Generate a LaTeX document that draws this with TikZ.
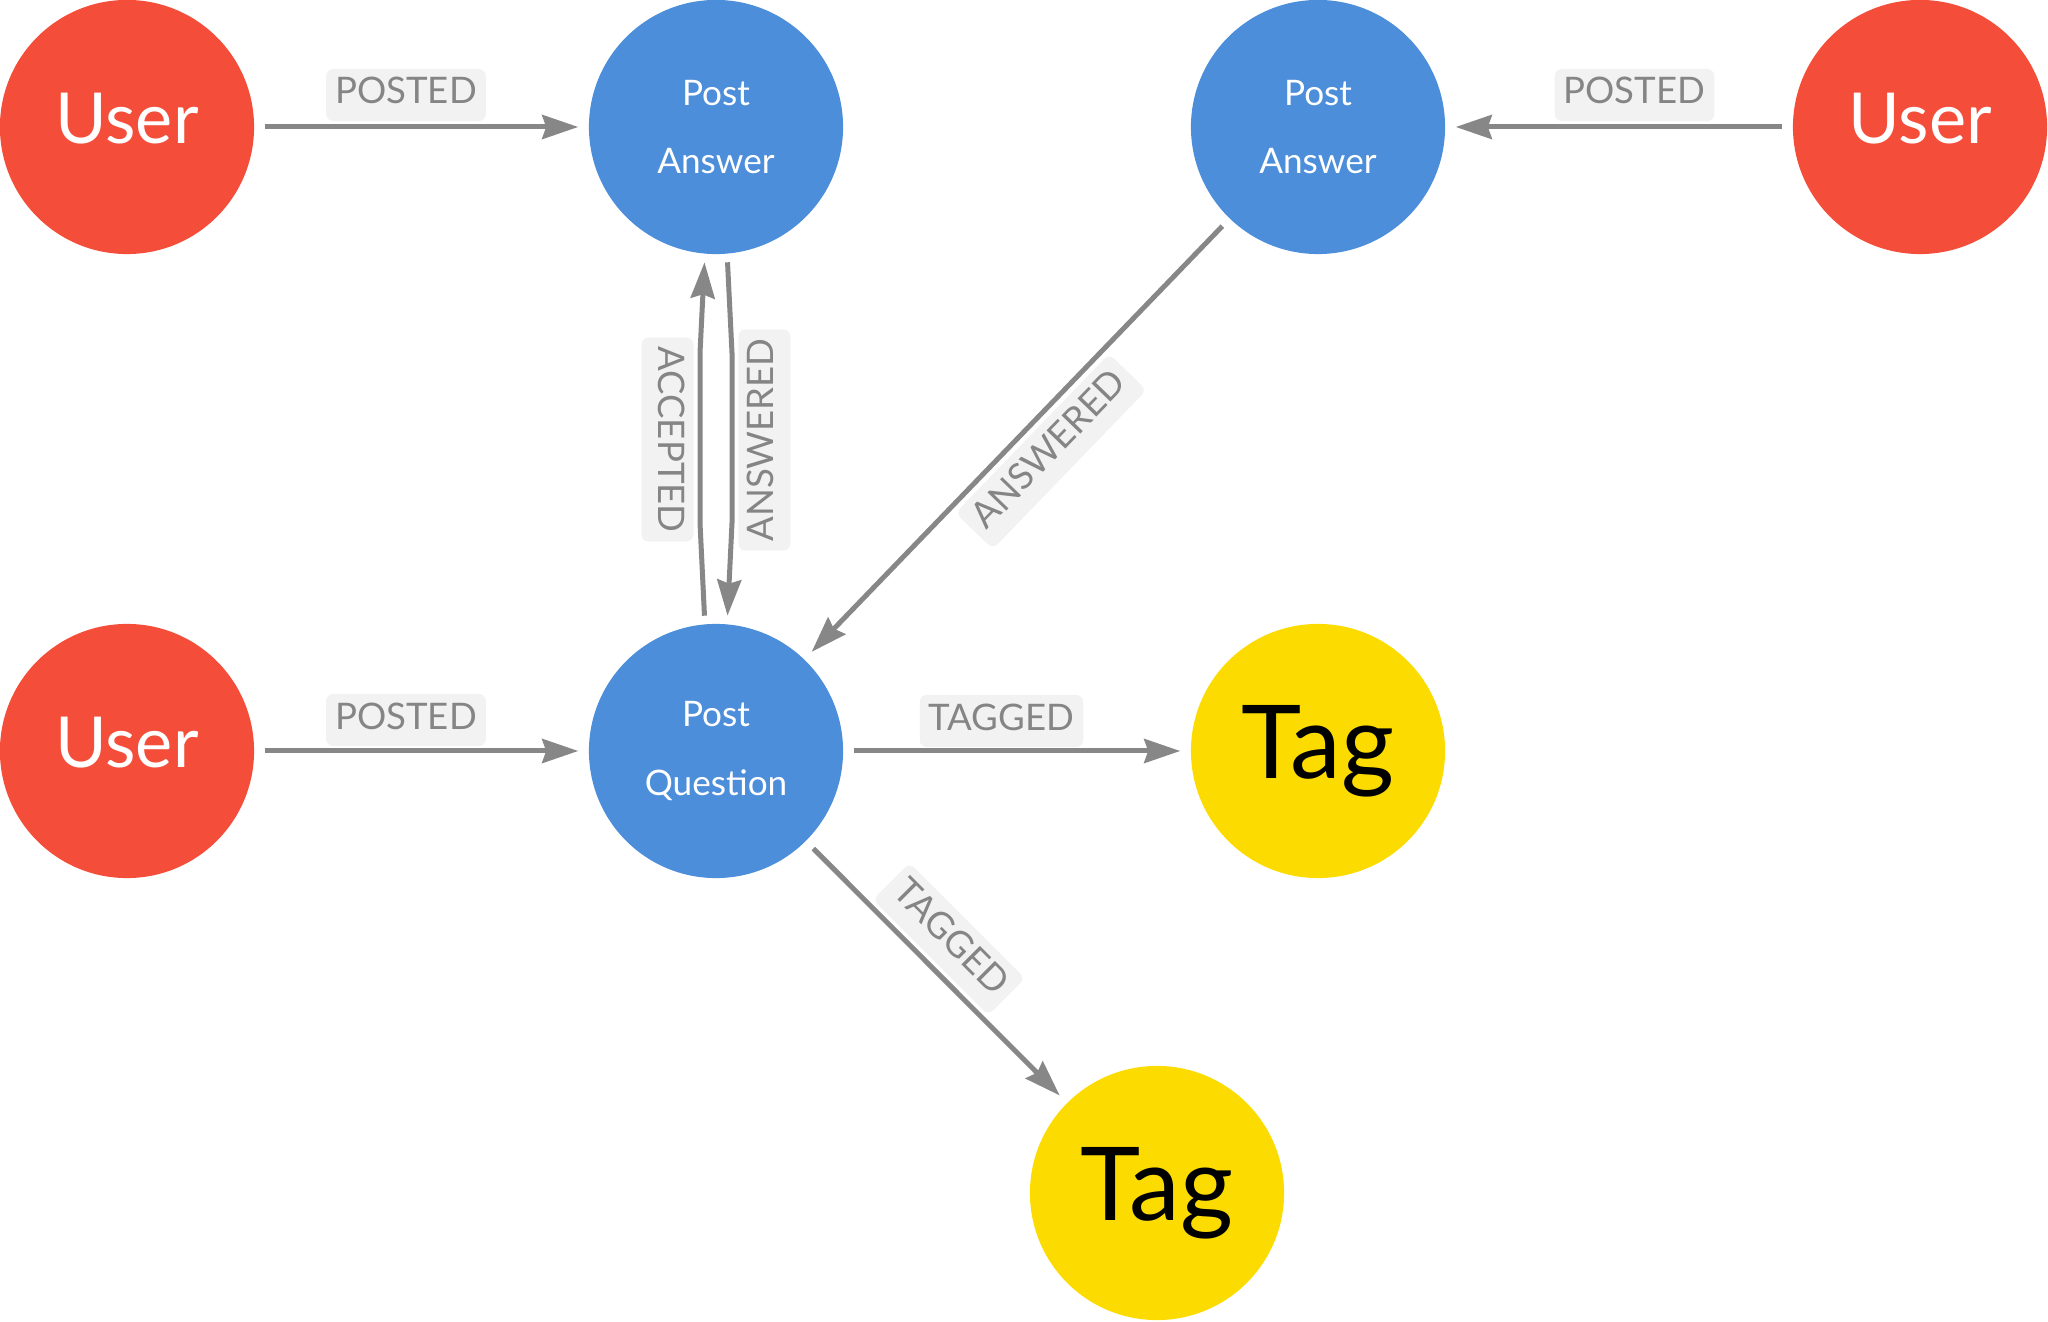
\documentclass[tikz,border=0pt]{standalone}
\usepackage{fontspec}
\setmainfont{Lato}
\usetikzlibrary{arrows.meta}
\definecolor{ured}{HTML}{F44E3B}
\definecolor{pblue}{HTML}{4C8EDA}
\definecolor{tyel}{HTML}{FCDC00}
\definecolor{edgegray}{HTML}{878787}
\definecolor{lblbg}{HTML}{F2F2F2}
\definecolor{lbltxt}{HTML}{858585}
\begin{document}
\begin{tikzpicture}[x=0.01cm,y=-0.01cm,
  ent/.style={circle,minimum size=2.54cm,inner sep=0pt,draw=none},
  usr/.style={ent,fill=ured,text=white,font=\fontsize{20}{24}\selectfont,text height=0.49cm,text depth=0.16cm},
  postnode/.style={ent,fill=pblue,text=white,align=center,font=\fontsize{10}{19.35}\selectfont},
  tagnode/.style={ent,fill=tyel,text=black,font=\fontsize{29}{34}\selectfont},
  rel/.style={draw=edgegray,line width=0.05cm,-{Stealth[length=0.36cm,width=0.24cm,inset=0.04cm]},shorten <=0.1cm,shorten >=0.1cm},
  lbl/.style={fill=lblbg,text=lbltxt,rounded corners=0.07cm,font=\fontsize{10.4}{12}\selectfont,inner xsep=0.09cm,inner ysep=0pt,minimum height=0.52cm,text height=0.26cm,text depth=0.08cm}
]
\useasboundingbox (0,0) rectangle (2048,1322);

\node[usr] (u1) at (127,127) {User};
\node[postnode] (pa1) at (716,127) {Post\\Answer};
\node[postnode] (pa2) at (1318,127) {Post\\Answer};
\node[usr] (u2) at (1920,127) {User};
\node[usr] (u3) at (127,751) {User};
\node[postnode] (pq) at (716,751) {Post\\Question};
\node[tagnode] (t1) at (1318,751) {Tag};
\node[tagnode] (t2) at (1157,1193) {Tag};

\coordinate (acc1) at (700,523);
\coordinate (acc2) at (700,353);
\coordinate (ans1) at (732,353);
\coordinate (ans2) at (732,523);

\draw[rel] (u1) -- (pa1);
\draw[rel] (u2) -- (pa2);
\draw[rel] (u3) -- (pq);
\draw[rel] (pq) -- (t1);
\draw[rel] (pq) -- (t2);
\draw[rel] (pa2) -- (pq);
\draw[rel,shorten <=0.08cm,shorten >=0.08cm] (pq.95) -- (acc1) -- (acc2) -- (pa1.265);
\draw[rel,shorten <=0.08cm,shorten >=0.08cm] (pa1.-85) -- (ans1) -- (ans2) -- (pq.85);

\node[lbl] (l1) at (406,95) {POSTED};
\node[lbl] (l2) at (1634.5,95) {POSTED};
\node[lbl] (l3) at (406,720) {POSTED};
\node[lbl] (l4) at (1001.5,721) {TAGGED};
\node[lbl,rotate=-45] (l5) at (949,939) {TAGGED};
\node[lbl,rotate=46] (l6) at (1051,451.5) {ANSWERED};
\node[lbl,rotate=-90] (l7) at (667.5,439.5) {ACCEPTED};
\node[lbl,rotate=90] (l8) at (764.5,440) {ANSWERED};
\end{tikzpicture}
\end{document}
